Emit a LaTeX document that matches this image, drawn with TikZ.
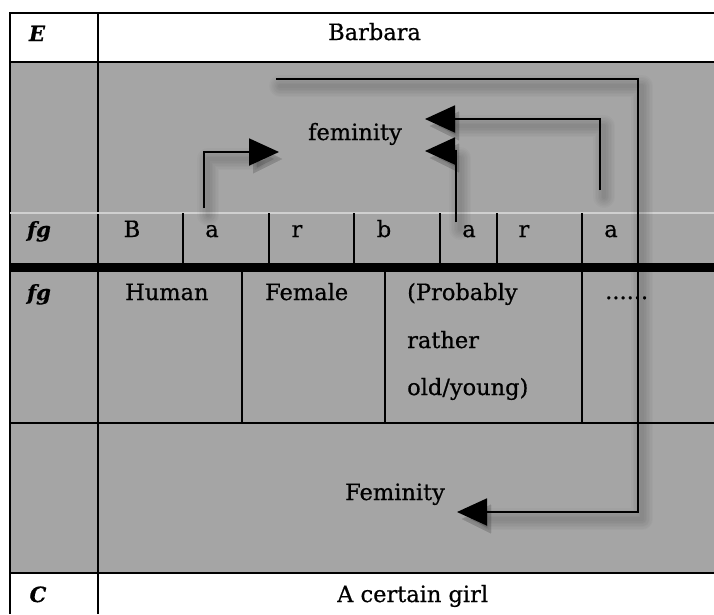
\documentclass[tikz,border=0pt]{standalone}
\usepackage{fontspec}
\setmainfont{DejaVu Serif}[FakeBold=0.6]
\usetikzlibrary{arrows.meta}

\definecolor{cellgray}{HTML}{A5A5A5}
\definecolor{rulelight}{HTML}{D0D0D0}

% soft drop shadow under an arrow path
\newcommand\arrowshade[1]{%
  \foreach \w in {4,7,10,13,16,19,22}{%
    \draw[black, opacity=0.025, line width=\w pt, line join=round, line cap=round,
          transform canvas={shift={(4pt,-7pt)}},
          -{Triangle[length=30pt,width=27pt]}] #1;
  }}

\begin{document}
\begin{tikzpicture}[x=1pt,y=-1pt,
  grid/.style={line width=1.6pt, black},
  txt/.style={anchor=base west, inner sep=0pt, font=\fontsize{22.5}{26}\selectfont},
  ctxt/.style={anchor=base, inner sep=0pt, font=\fontsize{22.5}{26}\selectfont},
  lbl/.style={anchor=base, inner sep=0pt, font=\fontsize{21}{26}\selectfont\bfseries\itshape},
  link/.style={line width=1.9pt, line join=miter, -{Triangle[length=30pt,width=27pt]}},
  ]
\useasboundingbox (0,0) rectangle (714,614);

% shaded body of the table
\fill[cellgray] (10,62) rectangle (714,573);

% outer frame and main rules
\draw[grid] (714,13) -- (10,13) -- (10,614);
\draw[grid] (98,13) -- (98,614);
\draw[grid] (10,62) -- (714,62);
\draw[rulelight, line width=1.5pt] (10,213) -- (714,213);
\fill[black] (10,263) rectangle (714,272);
\draw[grid] (10,423) -- (714,423);
\draw[grid] (10,573) -- (714,573);

% letter cells
\foreach \x in {183,269,354,440,497,582}
  \draw[grid] (\x,213) -- (\x,263);

% feature cells
\foreach \x in {242,385,582}
  \draw[grid] (\x,272) -- (\x,423);

% labels in the first column
\node[lbl] (lE)  at (37,41)  {E};
\node[lbl] (lf1) at (39,237) {fg};
\node[lbl] (lf2) at (39,300) {fg};
\node[lbl] (lC)  at (38,602) {C};

% row texts
\node[txt] (name)  at (328,40)  {Barbara};
\node[txt] (fem)   at (308,140) {feminity};
\node[ctxt] (l1) at (132,237) {B};
\node[ctxt] (l2) at (212,237) {a};
\node[ctxt] (l3) at (297,237) {r};
\node[ctxt] (l4) at (384,237) {b};
\node[ctxt] (l5) at (469,237) {a};
\node[ctxt] (l6) at (524,237) {r};
\node[ctxt] (l7) at (611,237) {a};
\node[txt] (human)  at (125,300) {Human};
\node[txt] (female) at (265,300) {Female};
\node[txt] (prob1)  at (407,300) {(Probably};
\node[txt] (prob2)  at (407,348) {rather};
\node[txt] (prob3)  at (407,395) {old/young)};
\node[txt] (dots)   at (605,299) {......};
\node[txt] (Fem)    at (345,500) {Feminity};
\node[txt] (girl)   at (337,602) {A certain girl};

% arrow end points
\coordinate (s1) at (204,208);
\coordinate (e1) at (279,152);
\coordinate (s2) at (600,190);
\coordinate (e2) at (425,119);
\coordinate (s3) at (456,222);
\coordinate (e3) at (425,151);
\coordinate (s4) at (276,79);
\coordinate (c4) at (638,512);
\coordinate (e4) at (457,512);

% shadows first, then arrows
\arrowshade{(s1) |- (e1)}
\arrowshade{(s2) |- (e2)}
\arrowshade{(s3) |- (e3)}
\arrowshade{(s4) -| (c4) -- (e4)}

\draw[link] (s1) |- (e1);
\draw[link] (s2) |- (e2);
\draw[link] (s3) |- (e3);
\draw[link] (s4) -| (c4) -- (e4);
\end{tikzpicture}
\end{document}
